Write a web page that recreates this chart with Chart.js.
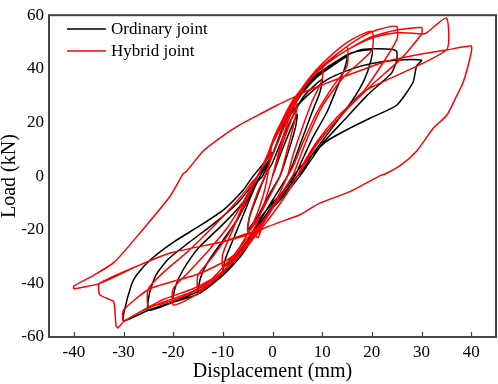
<!DOCTYPE html>
<html>
<head>
<meta charset="utf-8">
<script src="https://cdn.jsdelivr.net/npm/chart.js@4.4.0/dist/chart.umd.min.js"></script>
<style>
  html, body { margin: 0; padding: 0; background: #fff; }
</style>
</head>
<body>
<canvas id="chart" width="498" height="384"></canvas>
<script>
// ticks
const xTicks = [-40, -30, -20, -10, 0, 10, 20, 30, 40];
const yTicks = [-60, -40, -20, 0, 20, 40, 60];

// Ordinary joint: [displacement mm, load kN], cycles 5..30 mm
const ordinaryCurve = [
  [0,0],[2,10],[4,19],[5,23],[4.6,18],[3,8],[1.5,0],[-1,-8],[-3,-15],[-5,-20],[-4.6,-15],[-3,-7],[-1.5,0],[0,5],
  [2,14],[4,22],[6,29],[8,33],[10,36],[9.5,31],[8,24],[6,14],[4,4],[3,0],[0,-9],[-3,-18],[-5,-24],[-8,-31],[-10,-36],
  [-9.5,-31],[-8,-24],[-6,-15],[-4,-6],[-2.5,0],[0,8],
  [2,17],[4,25],[6,31],[9,37],[12,41],[15,44.5],[14.5,40],[13,33],[11,24],[8,14],[5.5,4],[4.5,0],[2,-6],[0,-11],
  [-3,-19],[-6,-28],[-10,-36],[-13,-41],[-15,-44],[-14.5,-38],[-13,-32],[-10,-24],[-7,-16],[-5,-9],[-3,-2],[-2,0],[0,8],
  [2,18],[4,26],[6,32],[9,38],[13,43],[16,46],[20,47],[19.8,43],[18.5,36],[16,28],[12,18],[8,8],[6,2],[5,0],[2,-7],
  [0,-11],[-3,-19],[-6,-28],[-10,-36],[-15,-42],[-20,-47],[-19.5,-41],[-18,-35],[-15,-27],[-10,-18],[-6,-10],
  [-3.5,-3],[-2.5,0],[0,8],
  [2,18],[4,26],[6,32],[10,39],[14,44],[17.6,47],[20,47.5],[24,47.3],[25,46.5],[25,43],[24,38.5],[22.3,35.5],
  [19,30],[15,22],[10,12],[7,4],[5.5,0],[2,-8],[0,-12],[-3,-20],[-6,-29],[-10,-37],[-15,-43],[-20,-47],[-25,-50],
  [-24.8,-44],[-23.5,-37],[-21,-31],[-17,-25],[-12,-18],[-7,-10],[-4,-3],[-3,0],[0,8],
  [2,17],[4,24],[7,30],[11,36],[16,40],[20,42],[24.7,43.2],[30,43.2],[29,41],[28.3,35],[25,26.4],[20.2,22.1],
  [15.6,17.9],[10.9,13],[6.2,4.5],[4.2,0],[2,-6],[0,-10],[-2.6,-16],[-5.2,-25],[-10,-37],[-15,-44],[-20,-47],
  [-25,-50],[-30,-54],[-29.8,-50],[-28.4,-40.5],[-27.4,-37],[-24.7,-31.4],[-20,-24.7],[-14.7,-18.6],[-9.8,-12.5],
  [-5.9,-5.2],[-3.9,0],[-1.9,4.5],[0,9]
];

// Hybrid joint: [displacement mm, load kN], cycles 5..40 mm
const hybridCurve = [
  [0,0],[2,12],[4,22],[5,27],[4.5,21],[3,10],[1.5,0],[-1,-9],[-3,-16],[-5,-21],[-4.6,-15],[-3,-6],[-1.5,0],[0,8],
  [2,17],[4,25],[6,32],[8,37],[10,40.5],[10,36],[8,28],[6,18],[4,7],[3,0],[1,-8],[-1,-15],[-4,-22],[-7,-29],
  [-10,-34],[-10,-29],[-8,-20],[-6,-11],[-4,-3],[-3,0],[-1,7],[0,12],
  [2,19],[4,26],[6,32],[9,39],[12,44],[15,48],[15,41],[12,33],[9,24],[6,12],[4,3],[3,0],[1,-8],[-2,-17],[-5,-23],
  [-8,-30],[-11,-36],[-13,-40],[-15,-43],[-15,-37],[-12,-30],[-9,-22],[-6,-12],[-4,-4],[-3,0],[-1,7],[0,12],
  [2,20],[4,27],[6,33],[9,40],[13,47],[16,51],[20,54],[20,47],[14.2,36.7],[10,26],[7,14],[4.5,2],[4,0],[1,-9],
  [-2,-18],[-5,-25],[-9,-34],[-13,-41],[-17,-46],[-20,-48],[-20,-42],[-17,-36],[-13,-28],[-9,-19],[-6,-10],[-4,-3],
  [-3,0],[-1,8],[0,13],
  [2,21],[4,28],[7,35],[10,41],[14,47],[18,52],[21,54.5],[25,55.8],[25,50.7],[18.3,31.5],[13,22],[9,13],[6,4],[5,0],
  [2,-9],[-2,-19],[-6,-28],[-10,-36],[-14,-41],[-18,-45],[-22,-47.5],[-25,-48.4],[-25,-42],[-22,-36],[-17,-28],
  [-12,-19],[-7,-9],[-4,-2],[-3,0],[-1,8],[0,13],
  [2,21],[4,28],[7,35],[11,42],[15,47],[20,52],[25,54.5],[30,55.4],[30,53],[26,44],[20,34],[14,23],[9,12],[6,3],[5,0],
  [2,-9],[-2,-19],[-6,-28],[-11,-37],[-16,-42],[-22,-46],[-27,-51],[-30,-54],[-30,-50],[-24.7,-42],[-14.6,-36.3],
  [-7.9,-29.6],[-4,-18],[-2,-8],[-1,0],[0,13],
  [2,21],[4,28],[7,35],[11,42],[15,47],[20,51.5],[25,53.5],[30,53],[31,53.4],[35,59],[35,47],[18.3,31.5],[13,21],
  [9,12],[6,3],[5,0],[2,-9],[-2,-19],[-6,-28],[-11,-37],[-16,-43],[-22,-47],[-27,-51],[-30.1,-54.5],[-31.1,-56.6],
  [-31.5,-55.7],[-31.8,-48.4],[-32.1,-46.6],[-34.8,-44.2],[-34.8,-40],[-26.8,-33.2],[-20,-28.4],[-10,-24.5],
  [-4.2,-21],[-2,-12],[0,0],[2,14],[4,25],[5,30],
  [10,34],[15,37.5],[23,42.8],[30,45.5],[35,47],[40,48.5],[40,46],[38.4,35],[37.1,30],[35.1,22.7],[32.4,17.9],
  [29,9.3],[25.7,3.9],[22.7,0.8],[21.7,0.2],[15.6,-5.8],[9.5,-10.1],[5.5,-14.4],[-2.2,-19.9],[-2.9,-23],[-4.2,-21],
  [-10,-24.5],[-20,-28.4],[-26.8,-33.2],[-34.8,-40],[-40,-42],[-40,-41],[-36,-37],[-31.8,-32],[-26.1,-19.9],
  [-20.7,-7.7],[-18,0.8],[-17.3,1.8],[-14,9.3],[-10.6,14.2],[-6.6,19.1],[-2.6,23],[1,26.5],[5,30]
];

const toPoints = arr => arr.map(p => ({ x: p[0], y: p[1] }));

// frame, inward x ticks and legend inside plot
const framePlugin = {
  id: 'frame',
  afterDraw(chart) {
    const ctx = chart.ctx;
    const a = chart.chartArea;
    const xs = chart.scales.x;
    ctx.save();
    ctx.strokeStyle = '#444';
    ctx.lineWidth = 2;
    ctx.strokeRect(a.left, a.top, a.right - a.left, a.bottom - a.top);
    ctx.lineWidth = 1.2;
    xTicks.forEach(t => {
      const px = Math.round(xs.getPixelForValue(t)) + 0.5;
      ctx.beginPath();
      ctx.moveTo(px, a.bottom);
      ctx.lineTo(px, a.bottom - 5);
      ctx.stroke();
    });
    // legend
    ctx.font = '17px "Liberation Serif"';
    ctx.textBaseline = 'middle';
    chart.data.datasets.forEach((ds, i) => {
      const y = 29 + i * 22;
      ctx.strokeStyle = ds.borderColor;
      ctx.lineWidth = 1.6;
      ctx.beginPath();
      ctx.moveTo(67, y);
      ctx.lineTo(106, y);
      ctx.stroke();
      ctx.fillStyle = '#000';
      ctx.fillText(ds.label, 111, y + 1);
    });
    ctx.restore();
  }
};

new Chart(document.getElementById('chart'), {
  type: 'scatter',
  data: {
    datasets: [
      {
        label: 'Ordinary joint',
        data: toPoints(ordinaryCurve),
        showLine: true,
        borderColor: '#000',
        borderWidth: 1.5,
        pointRadius: 0,
        tension: 0.2,
        order: 2
      },
      {
        label: 'Hybrid joint',
        data: toPoints(hybridCurve),
        showLine: true,
        borderColor: '#ff0000',
        borderWidth: 1.5,
        pointRadius: 0,
        tension: 0.2,
        order: 1
      }
    ]
  },
  plugins: [framePlugin],
  options: {
    responsive: false,
    animation: false,
    devicePixelRatio: 1,
    layout: { padding: { top: 8, right: 2, left: 0, bottom: 0 } },
    plugins: {
      legend: { display: false },
      tooltip: { enabled: false }
    },
    scales: {
      x: {
        type: 'linear',
        min: -45,
        max: 45,
        afterBuildTicks: s => { s.ticks = xTicks.map(v => ({ value: v })); },
        afterFit: s => { s.height = 47; },
        grid: { display: false, drawTicks: false },
        border: { display: false },
        ticks: {
          color: '#000',
          padding: 5,
          maxRotation: 0,
          font: { family: 'Liberation Serif', size: 17 }
        },
        title: {
          display: true,
          text: 'Displacement (mm)',
          color: '#000',
          padding: { top: 0, bottom: 0 },
          font: { family: 'Liberation Serif', size: 20, lineHeight: 1.2 }
        }
      },
      y: {
        type: 'linear',
        min: -60,
        max: 60,
        afterBuildTicks: s => { s.ticks = yTicks.map(v => ({ value: v })); },
        afterFit: s => { s.width = 49; },
        grid: { display: false, drawTicks: false },
        border: { display: false },
        ticks: {
          color: '#000',
          padding: 5,
          font: { family: 'Liberation Serif', size: 17 }
        },
        title: {
          display: true,
          text: 'Load (kN)',
          color: '#000',
          padding: 0,
          font: { family: 'Liberation Serif', size: 20, lineHeight: 1 }
        }
      }
    }
  }
});
</script>
</body>
</html>
